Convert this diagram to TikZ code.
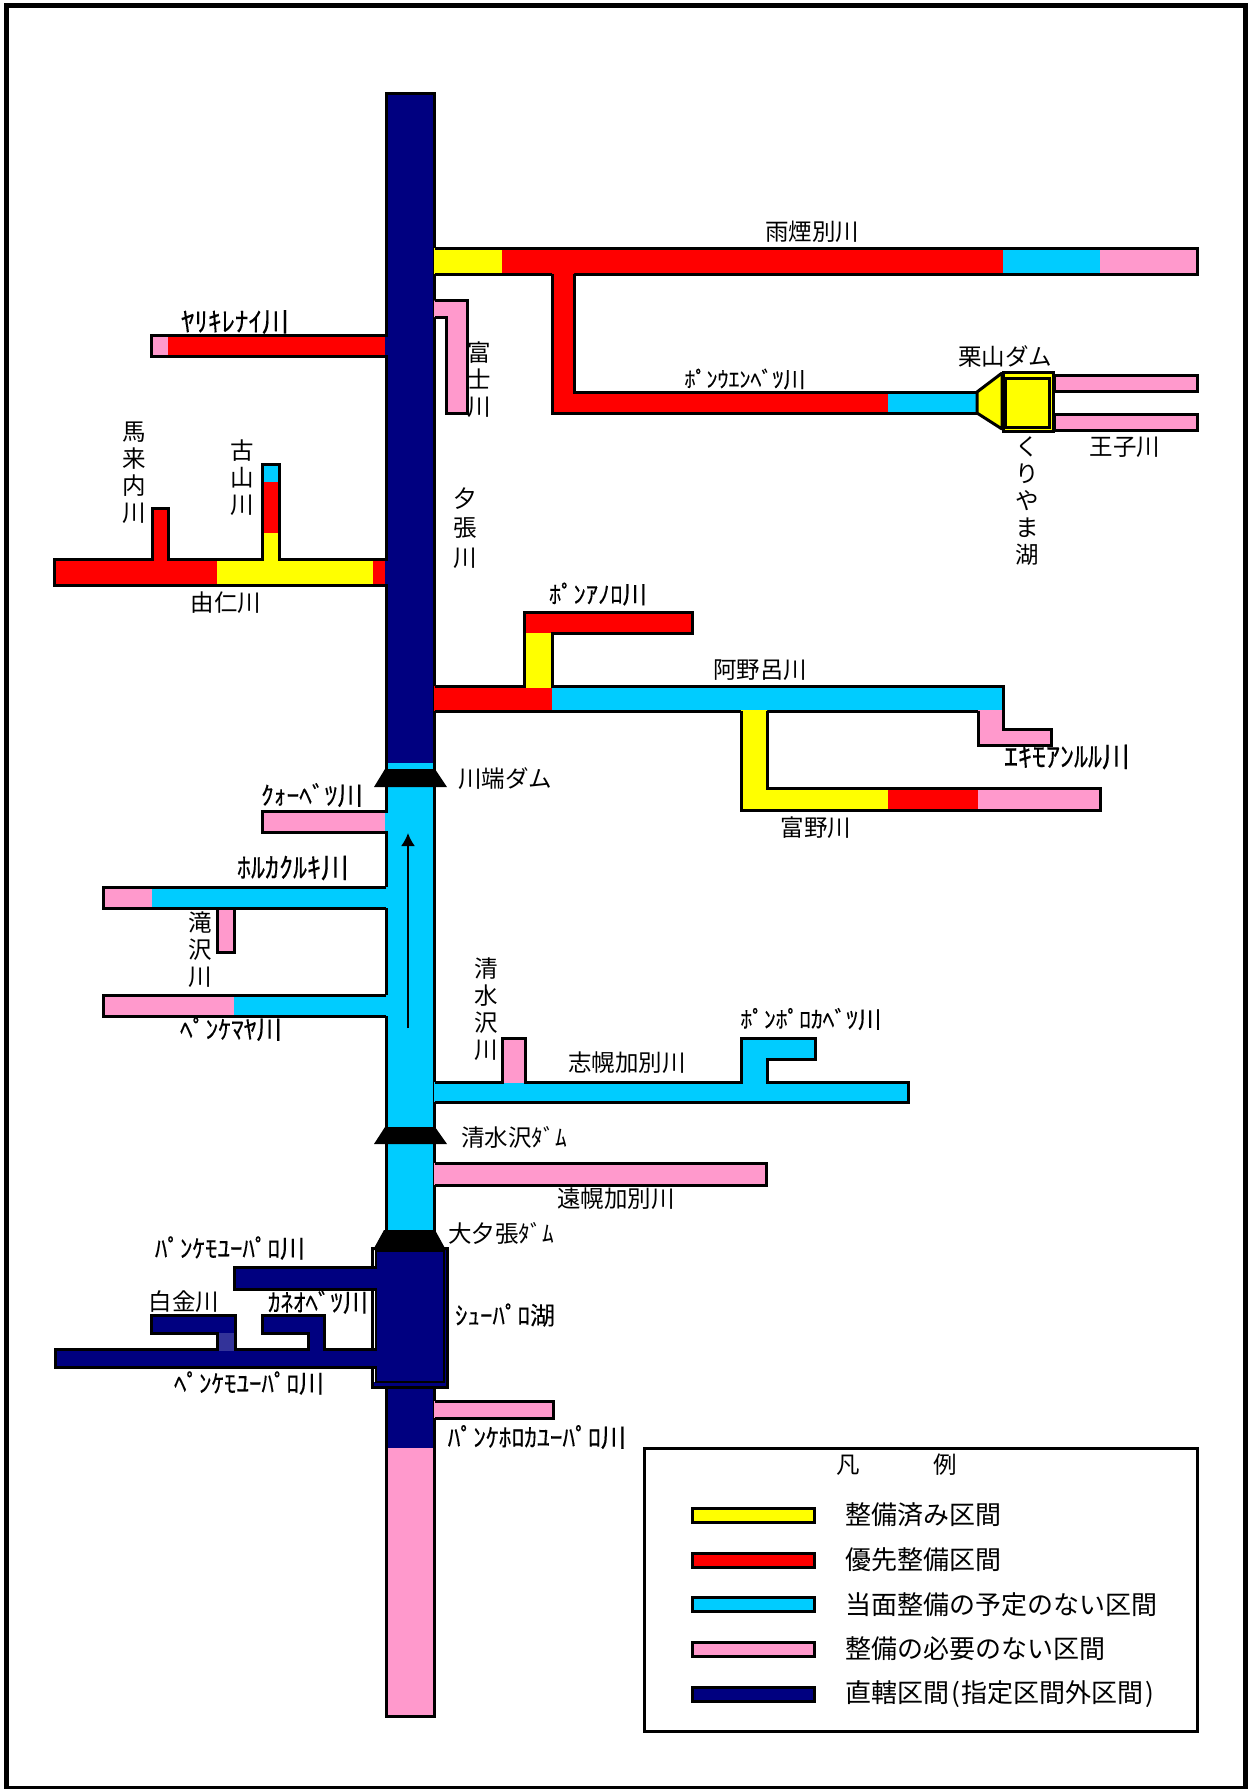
\documentclass[tikz,border=0pt]{standalone}
\usepackage{fontspec}
\setmainfont{Noto Sans CJK JP}
\newfontfamily\kanafont[FakeBold=0.25]{Noto Sans CJK JP}
\usetikzlibrary{arrows.meta, positioning}
\definecolor{dyellow}{HTML}{FFFF00}
\definecolor{dred}{HTML}{FF0000}
\definecolor{dcyan}{HTML}{00CCFF}
\definecolor{dpink}{HTML}{FF99CC}
\definecolor{dnavy}{HTML}{000080}
\definecolor{dblue}{HTML}{333399}
\tikzset{riv/.style={draw=black,line width=3pt,line join=miter},lab/.style={inner sep=0pt,font=\fontsize{23.5}{27}\selectfont},klab/.style={inner sep=0pt,font=\kanafont\fontsize{#1}{27}\selectfont},vlab/.style={lab,align=center},dam/.style={fill=black},swatch/.style={riv,minimum width=122pt,minimum height=14pt,inner sep=0pt},legtext/.style={inner sep=0pt,anchor=west,font=\fontsize{26}{27}\selectfont}}

\begin{document}
\begin{tikzpicture}[x=1pt,y=-1pt]
\useasboundingbox (0,0) rectangle (1250,1789);
\draw[line width=5pt] (6.5,5.5) rectangle (1245.5,1788);
% main river
\fill[dnavy] (386,93) rectangle (434.5,763);
\fill[dcyan] (386,763) rectangle (434.5,1240);
\fill[dnavy] (386,1240) rectangle (434.5,1448);
\fill[dpink] (386,1448) rectangle (434.5,1716);
\draw[riv] (386.3,93) rectangle (434.7,1716);
% upper right
\fill[dyellow] (434,248) rectangle (502,274);
\fill[dred] (502,248) rectangle (1003,274);
\fill[dcyan] (1003,248) rectangle (1100,274);
\fill[dpink] (1100,248) rectangle (1197,274);
\draw[riv] (435,248) -- (1197,248) -- (1197,274) -- (574,274);
\draw[riv] (552,274) -- (435,274);
\fill[dred] (552,272) -- (574,272) -- (574,392) -- (888,392) -- (888,413) -- (552,413) -- cycle;
\fill[dcyan] (888,392) rectangle (977,413);
\draw[riv] (574,274) -- (574,392) -- (977,392);
\draw[riv] (977,413) -- (552,413) -- (552,274);
\fill[dpink] (434,300.5) -- (467,300.5) -- (467,413) -- (446,413) -- (446,317) -- (434,317) -- cycle;
\draw[riv] (435,300.5) -- (467,300.5) -- (467,413) -- (446,413) -- (446,317) -- (435,317);
% kuriyama dam
\draw[riv,fill=dyellow,line join=bevel] (977,392) -- (1002,373) -- (1002,429) -- (977,413) -- cycle;
\draw[riv,fill=dyellow] (1003,372) rectangle (1053,431);
\draw[riv] (1005,378) rectangle (1049,427);
\draw[riv,fill=dpink] (1054,375) -| (1197,391) -| cycle;
\draw[riv,fill=dpink] (1054,414) -| (1197,430) -| cycle;
% upper left
\fill[dpink] (151.5,335.5) rectangle (168,356.5);
\fill[dred] (168,335.5) rectangle (385,356.5);
\fill[dnavy] (384.8,337) rectangle (388,355);
\draw[riv] (385,335.5) -- (151.5,335.5) -- (151.5,356.5) -- (385,356.5);
\fill[dred] (54,559) rectangle (217,585);
\fill[dyellow] (217,559) rectangle (373,585);
\fill[dred] (373,559) rectangle (385,585);
\fill[dnavy] (384.8,560.5) rectangle (388,583.5);
\fill[dred] (152,508) rectangle (168,561);
\fill[dcyan] (262,464) rectangle (279,482);
\fill[dred] (262,482) rectangle (279,533);
\fill[dyellow] (262,533) rectangle (279,561);
\draw[riv] (385,559) -- (279,559) -- (279,464) -- (262,464) -- (262,559) -- (168,559) -- (168,508) -- (152,508) -- (152,559) -- (54,559) -- (54,585) -- (385,585);
% anoro
\fill[dred] (434,686) rectangle (552,711);
\fill[dcyan] (552,686) rectangle (1003,711);
\fill[dyellow] (524,633) rectangle (552,688);
\fill[dred] (524,612) -- (692,612) -- (692,633) -- (524,633) -- cycle;
\draw[riv] (435,686) -- (524,686) -- (524,612) -- (692,612) -- (692,633) -- (552,633) -- (552,686) -- (1003,686) -- (1003,729) -- (1051,729) -- (1051,745) -- (978,745) -- (978,711) -- (767,711);
\draw[riv] (741,711) -- (435,711);
\fill[dpink] (978,710) -- (1003,710) -- (1003,729) -- (1051,729) -- (1051,745) -- (978,745) -- cycle;
\draw[riv] (1003,686) -- (1003,729) -- (1051,729) -- (1051,745) -- (978,745) -- (978,711);
\fill[dyellow] (741,710) -- (767,710) -- (767,788) -- (888,788) -- (888,810) -- (741,810) -- cycle;
\fill[dred] (888,788) rectangle (978,810);
\fill[dpink] (978,788) rectangle (1100,810);
\draw[riv] (767,711) -- (767,788) -- (1100,788) -- (1100,810) -- (741,810) -- (741,711);
% middle left
\fill[dpink] (262,811) rectangle (385,832);
\fill[dcyan] (384.8,812.5) rectangle (388,830.5);
\draw[riv] (385,811) -- (262,811) -- (262,832) -- (385,832);
\fill[dpink] (217,906) rectangle (234,952);
\draw[riv] (217,908) -- (217,952) -- (234,952) -- (234,908);
\fill[dpink] (103,887) rectangle (152,908);
\fill[dcyan] (152,887) rectangle (388,908);
\draw[riv] (386,887) -- (103,887) -- (103,908) -- (386,908);
\fill[dpink] (103,995) rectangle (234,1016);
\fill[dcyan] (234,995) rectangle (388,1016);
\draw[riv] (386,995) -- (103,995) -- (103,1016) -- (386,1016);
% shihoro
\fill[dcyan] (434,1082) rectangle (908,1102);
\fill[dpink] (502,1038) rectangle (525,1083);
\fill[dcyan] (741,1038) -- (815,1038) -- (815,1059) -- (767,1059) -- (767,1084) -- (741,1084) -- cycle;
\draw[riv] (435,1082) -- (502,1082) -- (502,1038) -- (525,1038) -- (525,1082) -- (741,1082) -- (741,1038) -- (815,1038) -- (815,1059) -- (767,1059) -- (767,1082) -- (908,1082) -- (908,1102) -- (435,1102);
\fill[dpink] (434,1163) rectangle (766,1185);
\draw[riv] (435,1163) -- (766,1163) -- (766,1185) -- (435,1185);
% shuparo lake
\fill[dpink] (434,1401) rectangle (553,1418);
\draw[riv] (435,1401) -- (553,1401) -- (553,1418) -- (435,1418);
\fill[white] (372,1248) rectangle (447,1387);
\fill[dnavy] (376,1248) rectangle (447,1387);
\fill[dnavy] (372,1382) rectangle (376,1387);
\draw[riv] (372,1248) rectangle (447,1387);
\draw[riv,line width=2.5pt] (376,1251) rectangle (444,1382);
\fill[dnavy] (234,1267) rectangle (378,1289);
\draw[riv] (377,1267) -- (234,1267) -- (234,1289) -- (377,1289);
\fill[dnavy] (55,1349) rectangle (378,1367);
\fill[dnavy] (151,1315) rectangle (235,1333);
\fill[dblue] (217.5,1333) rectangle (235,1351);
\fill[dnavy] (262.5,1315) rectangle (324.5,1333);
\fill[dnavy] (308,1333) rectangle (324.5,1351);
\draw[riv] (377,1349) -- (324.5,1349) -- (324.5,1315) -- (262.5,1315) -- (262.5,1333) -- (308,1333) -- (308,1349) -- (235,1349) -- (235,1315) -- (151,1315) -- (151,1333) -- (217.5,1333) -- (217.5,1349) -- (55,1349) -- (55,1367) -- (377,1367);
% dams
\fill[dam] (385,769) -- (435,769) -- (447,787) -- (374,787) -- cycle;
\fill[dam] (385,1127) -- (435,1127) -- (447,1144) -- (374,1144) -- cycle;
\fill[dam] (384,1230) -- (435,1230) -- (446,1250) -- (373,1250) -- cycle;
% flow
\coordinate (flowtail) at (408,1028);
\coordinate (flowhead) at (408,833);
\draw[-{Latex[length=13pt,width=14pt]},line width=2pt] (flowtail) -- (flowhead);
% labels
\node[lab] (ubetsu) at (812,232) {雨煙別川};
\node[klab=27] (yarikire) at (235,322) {ﾔﾘｷﾚﾅｲ川};
\node[vlab] (fuji) at (479,380) {富\\士\\川};
\node[klab=22] (ponuen) at (745,379) {ﾎﾟﾝｳｴﾝﾍﾞﾂ川};
\node[lab] (kuriyamadam) at (1005,357) {栗山ダム};
\node[lab] (oji) at (1125,447) {王子川};
\node[vlab] (kuriyamako) at (1027,501) {く\\り\\や\\ま\\湖};
\node[vlab] (makuna) at (134,473) {馬\\来\\内\\川};
\node[vlab] (furuyama) at (242,478) {古\\山\\川};
\node[vlab,font=\fontsize{23.5}{29.5}\selectfont] (yubari) at (465,528) {夕\\張\\川};
\node[lab] (yuni) at (226,603) {由仁川};
\node[klab=24.5] (ponano) at (598,594) {ﾎﾟﾝｱﾉﾛ川};
\node[lab] (anoro) at (760,670) {阿野呂川};
\node[klab=28] (ekimo) at (1067,757) {ｴｷﾓｱﾝﾙﾙ川};
\node[lab] (tomino) at (816,828) {富野川};
\node[lab] (kawabata) at (505,779) {川端ダム};
\node[klab=25.5] (kuo) at (312,795) {ｸｫｰﾍﾞﾂ川};
\node[klab=28] (horuka) at (293,868) {ﾎﾙｶｸﾙｷ川};
\node[vlab] (takisawa) at (200,950) {滝\\沢\\川};
\node[klab=25.5] (penkemaya) at (231,1029) {ﾍﾟﾝｹﾏﾔ川};
\node[vlab] (shimizu) at (486,1009) {清\\水\\沢\\川};
\node[lab] (shihoro) at (627,1063) {志幌加別川};
\node[klab=23.5] (ponporo) at (811,1019) {ﾎﾟﾝﾎﾟﾛｶﾍﾞﾂ川};
\node[lab] (shimizudam) at (514,1137) {清水沢ﾀﾞﾑ};
\node[lab] (tohoro) at (616,1199) {遠幌加別川};
\node[lab] (oyubari) at (501,1233) {大夕張ﾀﾞﾑ};
\node[klab=25] (panke) at (230,1248) {ﾊﾟﾝｹﾓﾕｰﾊﾟﾛ川};
\node[lab] (shirogane) at (184,1302) {白金川};
\node[klab=25] (kaneo) at (318,1302) {ｶﾈｵﾍﾞﾂ川};
\node[klab=25] (shuparo) at (505,1315) {ｼｭｰﾊﾟﾛ湖};
\node[klab=25] (penke) at (249,1383) {ﾍﾟﾝｹﾓﾕｰﾊﾟﾛ川};
\node[klab=25.5] (pankehoro) at (537,1437) {ﾊﾟﾝｹﾎﾛｶﾕｰﾊﾟﾛ川};
% legend
\draw[riv] (644,1448) rectangle (1197,1731);
\node[lab] (han) at (848,1465) {凡};
\node[lab] (rei) at (945,1465) {例};
\node[swatch,fill=dyellow] (sw1) at (753.5,1515) {};
\node[swatch,fill=dred] (sw2) at (753.5,1560) {};
\node[swatch,fill=dcyan] (sw3) at (753.5,1604.5) {};
\node[swatch,fill=dpink] (sw4) at (753.5,1649) {};
\node[swatch,fill=dnavy] (sw5) at (753.5,1694) {};
\node[legtext] (t1) at (845,1515) {整備済み区間};
\node[legtext] (t2) at (845,1560) {優先整備区間};
\node[legtext] (t3) at (845,1604.5) {当面整備の予定のない区間};
\node[legtext] (t4) at (845,1649) {整備の必要のない区間};
\node[legtext] (t5) at (845,1694) {直轄区間\kern2pt(\kern2pt指定区間外区間\kern2pt)};
\end{tikzpicture}
\end{document}
